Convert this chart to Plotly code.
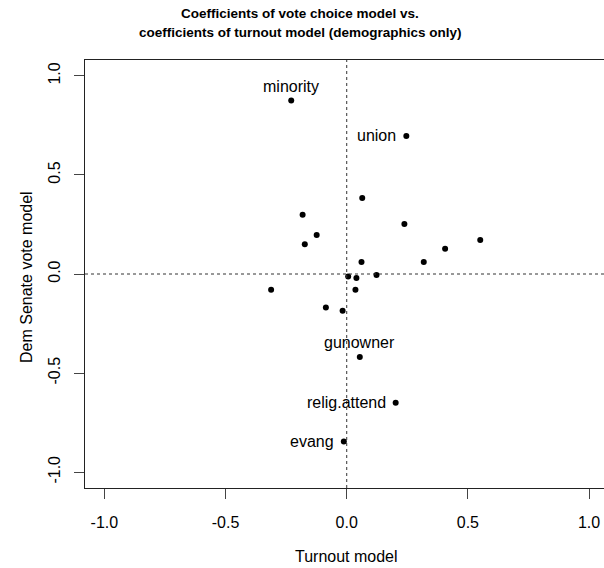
import plotly.graph_objects as go

# Data
turnout = [-0.229, 0.246, 0.064, -0.182, -0.124, -0.173, 0.238, 0.406, 0.551,
           0.061, 0.318, 0.006, 0.040, 0.123, -0.312, 0.036, -0.086, -0.017,
           0.054, 0.202, -0.012]
vote = [0.875, 0.697, 0.384, 0.299, 0.197, 0.150, 0.252, 0.128, 0.172,
        0.060, 0.060, -0.012, -0.020, -0.005, -0.079, -0.079, -0.169, -0.185,
        -0.419, -0.650, -0.845]
labels = ["minority", "union", "", "", "", "", "", "", "", "", "", "", "", "",
          "", "", "", "", "gunowner", "relig.attend", "evang"]
label_pos = ["top", "left", "", "", "", "", "", "", "", "", "", "", "", "",
             "", "", "", "", "top", "left", "left"]
tick_vals = [-1.0, -0.5, 0.0, 0.5, 1.0]
tick_text = ["-1.0", "-0.5", "0.0", "0.5", "1.0"]

W, H = 604, 568
L, T, B, R = 85, 60, 80, 0
PW, PH = W - L - R, H - T - B
FONT = "Liberation Sans, Arial, sans-serif"

def px2paper_x(px):
    return (px - L) / PW

def px2paper_y(py):
    return (H - B - py) / PH

fig = go.Figure()
fig.add_trace(go.Scatter(
    x=turnout, y=vote, mode="markers",
    marker=dict(color="black", size=6, symbol="circle"),
    hoverinfo="skip", showlegend=False,
))

# zero reference lines
fig.add_shape(type="line", xref="x", yref="paper", x0=0, x1=0, y0=0, y1=1,
              line=dict(color="#333", width=1, dash="3px,3px"))
fig.add_shape(type="line", xref="paper", yref="y", x0=0, x1=1, y0=0, y1=0,
              line=dict(color="#333", width=1, dash="3px,3px"))

for xv, yv, lab, pos in zip(turnout, vote, labels, label_pos):
    if not lab:
        continue
    if pos == "top":
        fig.add_annotation(x=xv, y=yv, text=lab, showarrow=False,
                           xanchor="center", yanchor="bottom", yshift=4,
                           font=dict(family=FONT, size=16, color="black"))
    else:
        fig.add_annotation(x=xv, y=yv, text=lab, showarrow=False,
                           xanchor="right", yanchor="middle", xshift=-8,
                           font=dict(family=FONT, size=16, color="black"))

# title lines
fig.add_annotation(xref="paper", yref="paper", x=px2paper_x(300), y=px2paper_y(13.5),
                   text="<b>Coefficients of vote choice model vs.</b>", showarrow=False,
                   xanchor="center", yanchor="middle",
                   font=dict(family=FONT, size=13.5, color="black"))
fig.add_annotation(xref="paper", yref="paper", x=px2paper_x(300), y=px2paper_y(32),
                   text="<b>coefficients of turnout model (demographics only)</b>", showarrow=False,
                   xanchor="center", yanchor="middle",
                   font=dict(family=FONT, size=13.5, color="black"))
# axis titles
fig.add_annotation(xref="paper", yref="paper", x=px2paper_x(346), y=px2paper_y(556),
                   text="Turnout model", showarrow=False,
                   xanchor="center", yanchor="middle",
                   font=dict(family=FONT, size=16, color="black"))
fig.add_annotation(xref="paper", yref="paper", x=px2paper_x(26), y=px2paper_y(277),
                   text="Dem Senate vote model", showarrow=False, textangle=-90,
                   xanchor="center", yanchor="middle",
                   font=dict(family=FONT, size=16, color="black"))

fig.update_layout(
    width=W, height=H,
    margin=dict(l=L, r=R, t=T, b=B, pad=0),
    plot_bgcolor="white", paper_bgcolor="white",
    xaxis=dict(range=[-1.08, 1.0617], tickvals=tick_vals, ticktext=tick_text,
               showgrid=False, zeroline=False, showline=True, mirror=True,
               linecolor="#222", linewidth=1, ticks="outside", ticklen=10,
               tickcolor="#444", tickwidth=1, ticklabelstandoff=10,
               tickfont=dict(family=FONT, size=16, color="black")),
    yaxis=dict(range=[-1.08, 1.08], tickvals=tick_vals, ticktext=tick_text,
               showgrid=False, zeroline=False, showline=True, mirror=False,
               linecolor="#222", linewidth=1, ticks="outside", ticklen=10,
               tickcolor="#444", tickwidth=1, tickangle=-90, ticklabelstandoff=8,
               tickfont=dict(family=FONT, size=16, color="black")),
)

fig.write_html("out.html")
